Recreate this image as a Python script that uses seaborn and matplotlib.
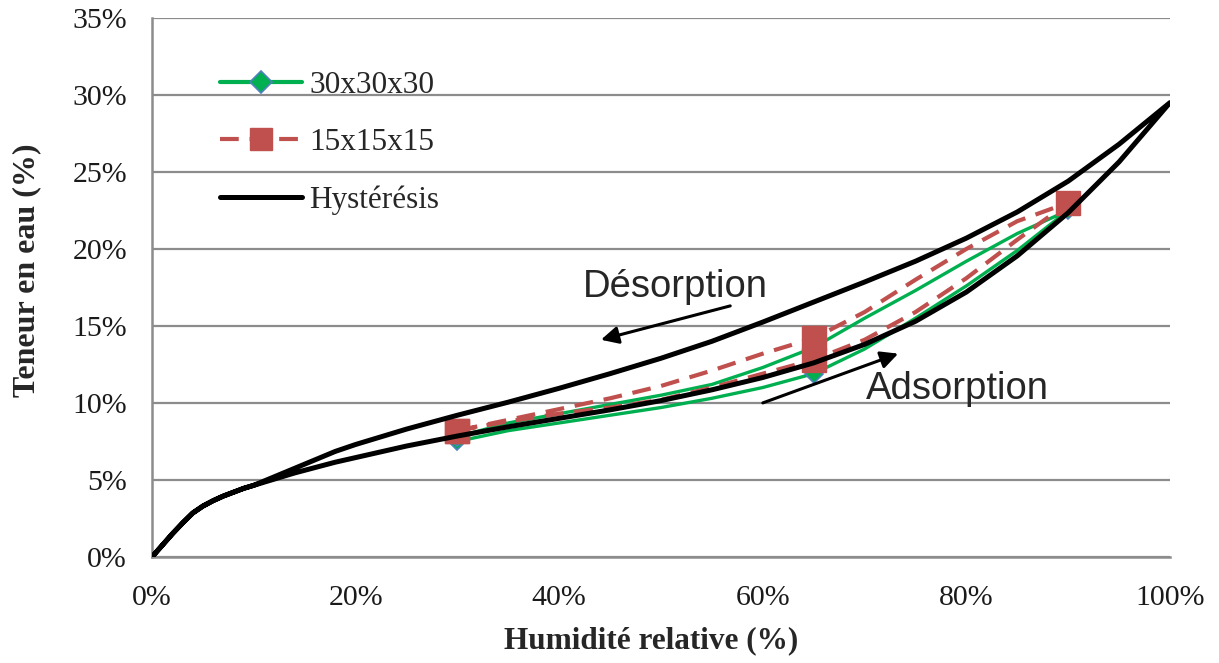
import matplotlib
matplotlib.use('Agg')
import matplotlib.pyplot as plt
from matplotlib.lines import Line2D
from matplotlib.ticker import PercentFormatter, MultipleLocator
import seaborn as sns
import pandas as pd

# Courbe d'hystérésis (humidité relative %, teneur en eau %)
hr_hyst = [0, 1, 2, 3, 4, 5, 6, 7, 8, 9, 10, 12, 14, 16, 18, 20, 25, 30, 35, 40, 45, 50,
           55, 60, 65, 70, 75, 80, 85, 90, 95, 100]
teneur_adsorption = [0, 0.75, 1.5, 2.2, 2.85, 3.3, 3.65, 3.95, 4.2, 4.45, 4.65, 5.05, 5.45,
                     5.8, 6.15, 6.45, 7.2, 7.85, 8.45, 9.0, 9.55, 10.15,
                     10.85, 11.65, 12.6, 13.8, 15.3, 17.2, 19.55, 22.35, 25.65, 29.5]
teneur_desorption = [0, 0.75, 1.5, 2.2, 2.85, 3.3, 3.65, 3.95, 4.2, 4.45, 4.65, 5.2, 5.75,
                     6.3, 6.85, 7.3, 8.3, 9.2, 10.05, 10.95, 11.9, 12.9,
                     14.0, 15.25, 16.55, 17.85, 19.2, 20.7, 22.4, 24.4, 26.8, 29.5]

# Echantillons : courbes lissées
hr_ech = [30, 35, 40, 45, 50, 55, 60, 65, 70, 75, 80, 85, 90]
ech30_ads = [7.5, 8.2, 8.7, 9.2, 9.7, 10.3, 11.0, 11.9, 13.5, 15.5, 17.6, 19.9, 22.5]
ech30_des = [7.8, 8.7, 9.3, 9.9, 10.5, 11.2, 12.3, 13.6, 15.5, 17.3, 19.2, 21.0, 22.5]
ech15_ads = [8.2, 8.8, 9.3, 9.7, 10.2, 11.0, 11.9, 12.8, 14.1, 15.9, 18.1, 20.6, 23.0]
ech15_des = [8.2, 8.9, 9.6, 10.3, 11.1, 12.1, 13.2, 14.2, 15.9, 18.0, 20.0, 21.8, 23.0]

# Points mesurés (marqueurs)
hr_mesure = [30, 65, 90, 65, 30]
mesure_30 = [7.5, 11.9, 22.5, 13.6, 7.8]
mesure_15 = [8.2, 12.8, 23.0, 14.2, 8.2]

labels = ['30x30x30', '15x15x15', 'Hystérésis']
VERT, BLEU, ROUGE, GRIS = '#00B050', '#4F81BD', '#C0504D', '#8C8C8C'


def boucle(x, ads, des):
    # aller en adsorption puis retour en désorption
    return pd.DataFrame({'hr': list(x) + list(x[::-1]),
                         'w': list(ads) + list(des[::-1])})


sns.set_style('white')
plt.rcParams['font.family'] = ['Liberation Serif', 'DejaVu Serif']

fig = plt.figure(figsize=(12.19, 6.63), dpi=100)
ax = fig.add_axes([0.1247, 0.160, 0.8351, 0.813])

df30 = boucle(hr_ech, ech30_ads, ech30_des)
df15 = boucle(hr_ech, ech15_ads, ech15_des)
dfh = boucle(hr_hyst, teneur_adsorption, teneur_desorption)

sns.lineplot(data=df30, x='hr', y='w', sort=False, estimator=None, ax=ax,
             color=VERT, linewidth=2.4, zorder=3, legend=False)
ax.plot(hr_mesure, mesure_30, linestyle='none', marker='D', markersize=9,
        markerfacecolor=VERT, markeredgecolor=BLEU, markeredgewidth=1.2, zorder=4)
sns.lineplot(data=df15, x='hr', y='w', sort=False, estimator=None, ax=ax,
             color=ROUGE, linewidth=3, dashes=(4.5, 2.6), zorder=5, legend=False)
ax.plot(hr_mesure, mesure_15, linestyle='none', marker='s', markersize=17,
        color=ROUGE, zorder=6)
sns.lineplot(data=dfh, x='hr', y='w', sort=False, estimator=None, ax=ax,
             color='black', linewidth=3.6, zorder=7, legend=False)

# flèches et annotations
fleche = dict(arrowstyle='-|>', color='black', lw=2.2, mutation_scale=26,
              shrinkA=0, shrinkB=0)
ax.annotate('', xy=(44.1, 14.1), xytext=(56.8, 16.3), arrowprops=fleche, zorder=8)
ax.annotate('', xy=(73.3, 13.2), xytext=(60.0, 10.0), arrowprops=fleche, zorder=8)
ax.text(42.3, 16.9, 'Désorption', family='Liberation Sans', fontsize=27.5,
        ha='left', va='baseline')
ax.text(70.1, 10.25, 'Adsorption', family='Liberation Sans', fontsize=27.5,
        ha='left', va='baseline')

ax.set_xlim(0, 100)
ax.set_ylim(0, 35)
ax.xaxis.set_major_locator(MultipleLocator(20))
ax.yaxis.set_major_locator(MultipleLocator(5))
ax.xaxis.set_major_formatter(PercentFormatter(decimals=0))
ax.yaxis.set_major_formatter(PercentFormatter(decimals=0))
ax.tick_params(axis='both', length=0, labelsize=21.5, colors='#1a1a1a')
ax.tick_params(axis='y', pad=18)
ax.tick_params(axis='x', pad=20)

ax.grid(axis='y', color=GRIS, linewidth=1.6)
ax.grid(axis='x', visible=False)
for side in ['top', 'right']:
    ax.spines[side].set_visible(False)
for side in ['left', 'bottom']:
    ax.spines[side].set_color(GRIS)
    ax.spines[side].set_linewidth(1.8)
ax.set_axisbelow(True)

ax.set_xlabel('Humidité relative (%)', fontsize=22.5, fontweight='bold')
ax.set_ylabel('Teneur en eau (%)', fontsize=23, fontweight='bold')
ax.xaxis.label.set_va('center')
ax.yaxis.label.set_va('center')
ax.xaxis.set_label_coords(0.49, -0.156)
ax.yaxis.set_label_coords(-0.123, 0.532)

handles = [
    Line2D([], [], color=VERT, linewidth=3, marker='D', markersize=11,
           markerfacecolor=VERT, markeredgecolor=BLEU, markeredgewidth=1.2),
    Line2D([], [], color=ROUGE, linewidth=3, dashes=(4.5, 2.6), marker='s', markersize=16),
    Line2D([], [], color='black', linewidth=3.6),
]
ax.legend(handles, labels, loc='upper left', bbox_to_anchor=(0.055, 0.925),
          frameon=False, fontsize=22.5, handlelength=2.6, handletextpad=0.25,
          labelspacing=0.9, borderaxespad=0)

fig.savefig('out.png', dpi=100)
